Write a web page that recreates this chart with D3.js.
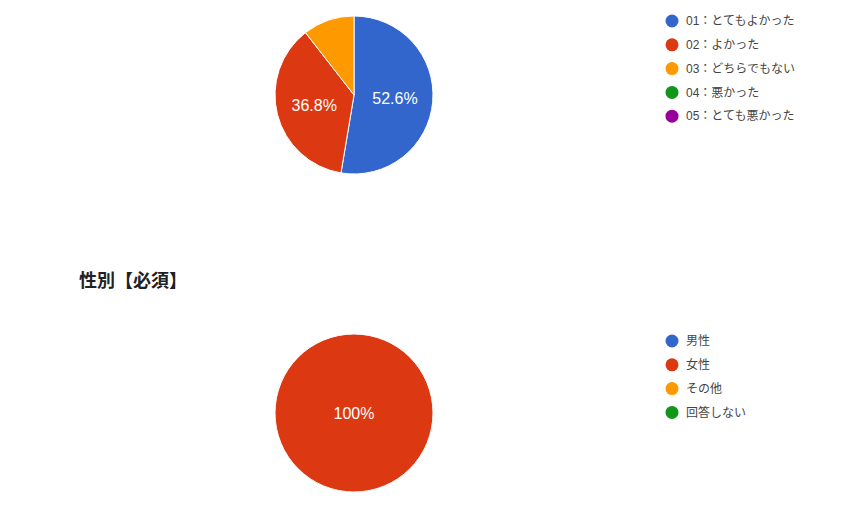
<!DOCTYPE html>
<html>
<head>
<meta charset="utf-8">
<script src="https://cdn.jsdelivr.net/npm/d3@7"></script>
<style>
  body { margin: 0; background: #fff; }
  svg { display: block; }
</style>
</head>
<body>
<svg id="chart" width="841" height="525"></svg>
<script>
// Datos de las dos preguntas (recuento de respuestas)
var labelsSatisfaccion = ["01：とてもよかった", "02：よかった", "03：どちらでもない", "04：悪かった", "05：とても悪かった"];
var valoresSatisfaccion = [10, 7, 2, 0, 0];

var labelsSexo = ["男性", "女性", "その他", "回答しない"];
var valoresSexo = [0, 19, 0, 0];

var tituloSexo = "性別【必須】";

var colores = ["#3366cc", "#dc3912", "#ff9900", "#109618", "#990099"];

var svg = d3.select("#chart");
var fuente = "'Liberation Sans', 'Noto Sans CJK JP', sans-serif";

/**
 * Dibuja una tarta con su leyenda
 */
function dibujarTarta(cx, cy, radio, valores, labels, legendX, legendY) {
    var total = d3.sum(valores);
    var pie = d3.pie().sort(null).value(function (d) { return d; });
    var arcs = pie(valores);
    var arc = d3.arc().innerRadius(0).outerRadius(radio);
    var arcLabel = d3.arc().innerRadius(radio * 0.52).outerRadius(radio * 0.52);

    var g = svg.append("g").attr("transform", "translate(" + cx + "," + cy + ")");

    g.selectAll("path")
        .data(arcs.filter(function (d) { return d.value > 0; }))
        .enter().append("path")
        .attr("d", arc)
        .attr("fill", function (d) { return colores[d.index]; })
        .attr("stroke", "#fff")
        .attr("stroke-width", 1);

    // Etiquetas: solo si el sector es suficientemente grande
    g.selectAll("text.pct")
        .data(arcs.filter(function (d) { return d.value / total > 0.15; }))
        .enter().append("text")
        .attr("class", "pct")
        .attr("transform", function (d) {
            if (d.value === total) return "translate(0,0)";
            return "translate(" + arcLabel.centroid(d) + ")";
        })
        .attr("text-anchor", "middle")
        .attr("dy", "0.35em")
        .attr("fill", "#fff")
        .style("font-family", fuente)
        .style("font-size", "16px")
        .text(function (d) {
            var p = d.value / total * 100;
            return (p === 100 ? "100" : p.toFixed(1)) + "%";
        });

    // Leyenda
    var y = d3.scalePoint().domain(d3.range(labels.length)).range([0, (labels.length - 1) * 23.8]);
    var leg = svg.append("g").attr("transform", "translate(" + legendX + "," + legendY + ")");
    var item = leg.selectAll("g")
        .data(labels)
        .enter().append("g")
        .attr("transform", function (d, i) { return "translate(0," + y(i) + ")"; });
    item.append("circle")
        .attr("r", 6.5)
        .attr("fill", function (d, i) { return colores[i]; });
    item.append("text")
        .attr("x", 14)
        .attr("dy", "0.35em")
        .attr("fill", "#444")
        .style("font-family", fuente)
        .style("font-size", "12px")
        .text(function (d) { return d; });
}

dibujarTarta(354, 95, 79, valoresSatisfaccion, labelsSatisfaccion, 672, 21);

svg.append("text")
    .attr("x", 79)
    .attr("y", 287)
    .attr("fill", "#202124")
    .style("font-family", "'Noto Sans CJK JP', sans-serif")
    .style("font-size", "18px")
    .style("font-weight", "bold")
    .text(tituloSexo);

dibujarTarta(354, 413, 79, valoresSexo, labelsSexo, 672, 341);
</script>
</body>
</html>
